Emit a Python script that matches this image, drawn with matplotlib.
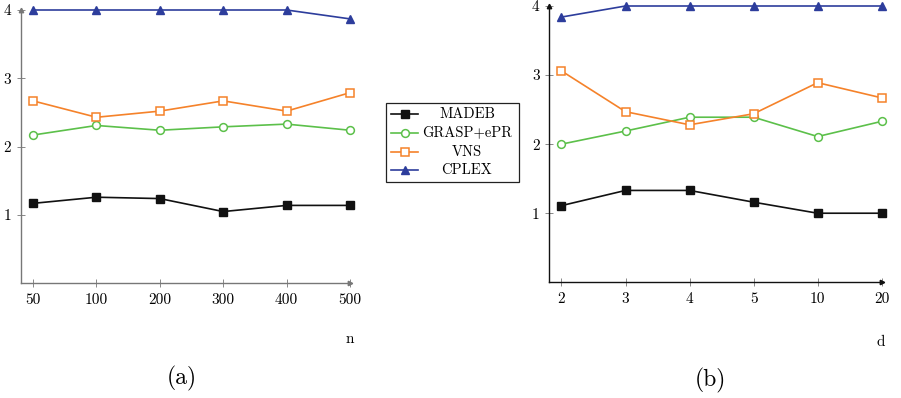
import matplotlib
matplotlib.use("Agg")
import matplotlib.pyplot as plt
from matplotlib.lines import Line2D
from matplotlib.patches import Rectangle

plt.rcParams['font.family'] = 'serif'
plt.rcParams['font.serif'] = ['cmr10', 'DejaVu Serif']
plt.rcParams['mathtext.fontset'] = 'cm'
plt.rcParams['axes.unicode_minus'] = False

# ---- data ----
n_labels = ["50", "100", "200", "300", "400", "500"]
d_labels = ["2", "3", "4", "5", "10", "20"]
series_names = ["MADEB", "GRASP+ePR", "VNS", "CPLEX"]

madeb_n = [1.17, 1.26, 1.24, 1.05, 1.14, 1.14]
grasp_n = [2.17, 2.31, 2.24, 2.29, 2.33, 2.24]
vns_n = [2.67, 2.43, 2.52, 2.67, 2.52, 2.79]
cplex_n = [4.0, 4.0, 4.0, 4.0, 4.0, 3.87]

madeb_d = [1.11, 1.33, 1.33, 1.16, 1.0, 1.0]
grasp_d = [2.0, 2.19, 2.39, 2.39, 2.11, 2.33]
vns_d = [3.06, 2.47, 2.28, 2.44, 2.89, 2.67]
cplex_d = [3.84, 4.0, 4.0, 4.0, 4.0, 4.0]

y_ticks = [1, 2, 3, 4]

# ---- styles ----
C_BLACK = "#111111"
C_GREEN = "#5cc04a"
C_ORANGE = "#f5822a"
C_BLUE = "#2d3d9c"
styles = [
    dict(color=C_BLACK, marker="s", mfc=C_BLACK, mec=C_BLACK, ms=6.0),
    dict(color=C_GREEN, marker="o", mfc="white", mec=C_GREEN, ms=5.6, mew=1.1),
    dict(color=C_ORANGE, marker="s", mfc="white", mec=C_ORANGE, ms=5.6, mew=1.1),
    dict(color=C_BLUE, marker="^", mfc=C_BLUE, mec=C_BLUE, ms=5.6),
]

W, H = 901, 398
fig = plt.figure(figsize=(W / 100, H / 100), dpi=100)
axA = fig.add_axes([21/W, (H-283.3)/H, (350-21)/W, (283.3-10)/H])
axB = fig.add_axes([549.3/W, (H-282.3)/H, (881.7-549.3)/W, (282.3-6)/H])


def setup(ax, labels, series, spine_color, xlabel, caption, xl_pos, cap_pos):
    x = list(range(len(labels)))
    for vals, st in zip(series, styles):
        ax.plot(x, vals, lw=1.2, clip_on=False, zorder=3, **st)
    ax.set_xlim(-0.19, 5.0)
    ax.set_ylim(0, 4)
    ax.set_xticks(x)
    ax.set_xticklabels(labels)
    ax.set_yticks(y_ticks)
    ax.set_yticklabels([str(t) for t in y_ticks])
    for s in ["top", "right"]:
        ax.spines[s].set_visible(False)
    for s in ["left", "bottom"]:
        ax.spines[s].set_color(spine_color)
        ax.spines[s].set_linewidth(1.0)
    ax.tick_params(direction="inout", length=6, width=0.7, color="#888888",
                   labelsize=11, pad=4)
    ax.plot([1.0], [0.0], marker=">", ms=3.2, color=spine_color,
            transform=ax.transAxes, clip_on=False, zorder=4)
    ax.plot([0.0], [1.0], marker="^", ms=3.2, color=spine_color,
            transform=ax.transAxes, clip_on=False, zorder=4)
    fig.text(xl_pos[0] / W, 1 - xl_pos[1] / H, xlabel,
             ha="center", va="center", fontsize=11)
    fig.text(cap_pos[0] / W, 1 - cap_pos[1] / H, caption,
             ha="center", va="center", fontsize=17)


setup(axA, n_labels, [madeb_n, grasp_n, vns_n, cplex_n], "#777777",
      "n", "(a)", (350, 339), (182, 378))
setup(axB, d_labels, [madeb_d, grasp_d, vns_d, cplex_d], "#111111",
      "d", "(b)", (881, 342), (710, 380))

# ---- legend (drawn in figure pixels) ----
box = Rectangle((385.7 / W, 1 - 181.7 / H), (519 - 385.7) / W, (181.7 - 103.3) / H,
                transform=fig.transFigure, fill=True, facecolor="white",
                edgecolor="#222222", lw=0.9)
fig.add_artist(box)
row_y = [114.3, 132.7, 151.7, 170.0]
for name, st, yy in zip(series_names, styles, row_y):
    yf = 1 - yy / H
    fig.add_artist(Line2D([391 / W, 418 / W], [yf, yf], transform=fig.transFigure,
                          color=st["color"], lw=1.2))
    mk = {k: v for k, v in st.items() if k != "color"}
    fig.add_artist(Line2D([404.5 / W], [yf], transform=fig.transFigure,
                          color=st["color"], lw=0, **mk))
    fig.text(467 / W, yf, name, ha="center", va="center", fontsize=10.5)

fig.savefig("out.png", dpi=100)
